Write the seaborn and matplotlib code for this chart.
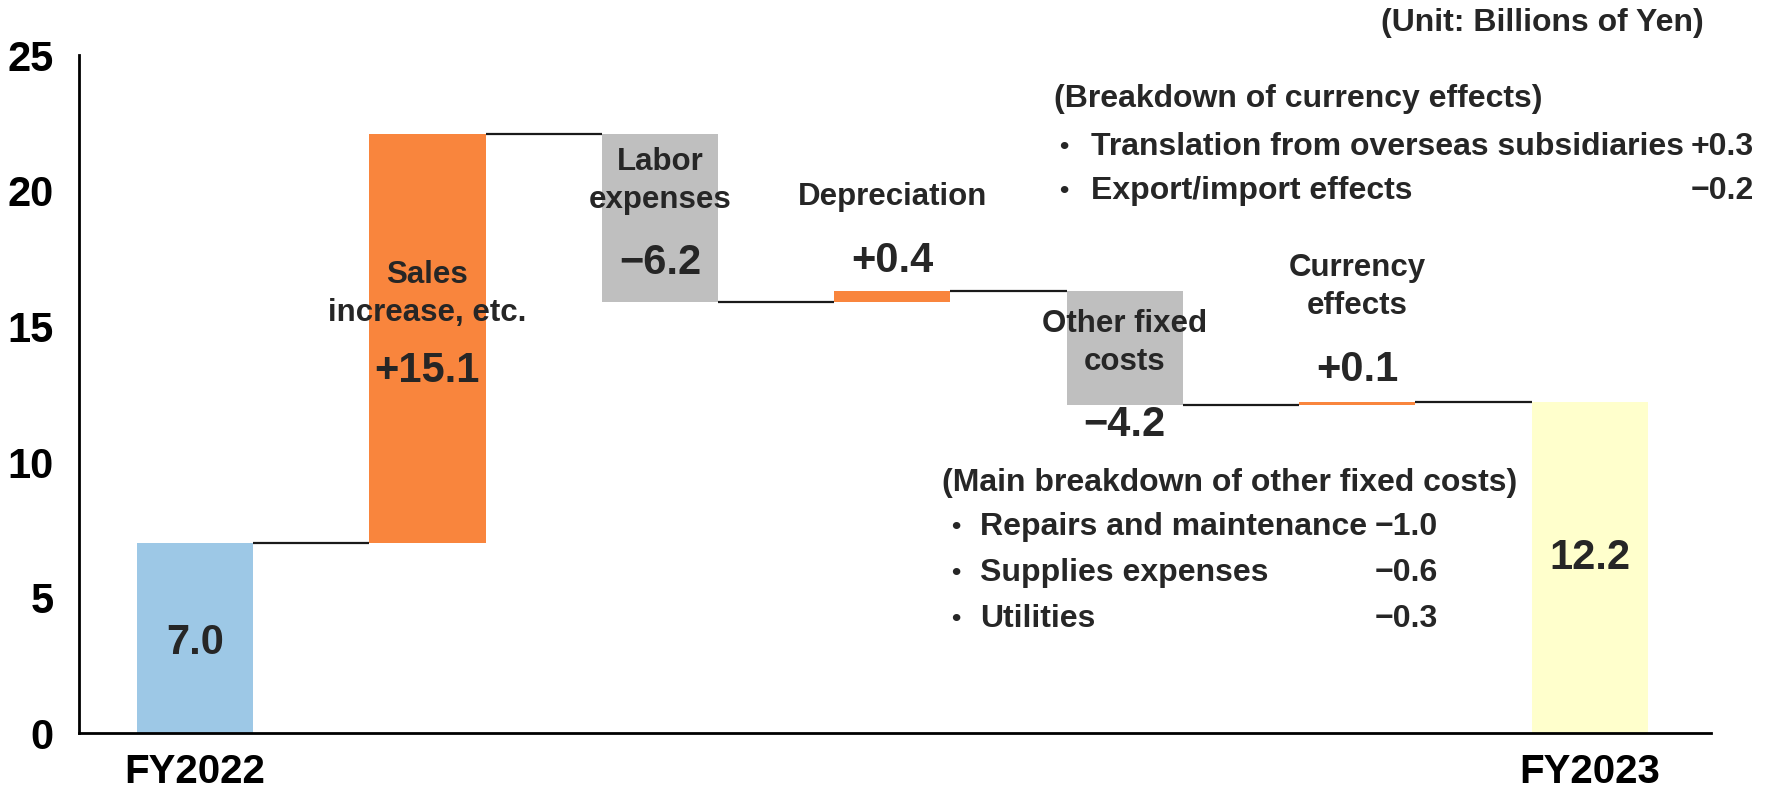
import pandas as pd
import matplotlib.pyplot as plt
import seaborn as sns

# waterfall data (billions of yen)
steps = ['FY2022', 'Sales\nincrease, etc.', 'Labor\nexpenses', 'Depreciation',
         'Other fixed\ncosts', 'Currency\neffects', 'FY2023']
deltas = [7.0, 15.1, -6.2, 0.4, -4.2, 0.1, 12.2]
is_total = [True, False, False, False, False, False, True]
value_labels = ['7.0', '+15.1', '\u22126.2', '+0.4', '\u22124.2', '+0.1', '12.2']
bar_colors = ['#9DC8E6', '#F9853D', '#BFBFBF', '#F9853D', '#BFBFBF', '#F9853D', '#FFFFCC']
xtick_labels = ['FY2022', '', '', '', '', '', 'FY2023']
yticks = [0, 5, 10, 15, 20, 25]

currency_items = ['Translation from overseas subsidiaries', 'Export/import effects']
currency_values = ['+0.3', '\u22120.2']
fixed_items = ['Repairs and maintenance', 'Supplies expenses', 'Utilities']
fixed_values = ['\u22121.0', '\u22120.6', '\u22120.3']

# running totals -> bar bottoms
bottoms = []
levels = []
run = 0.0
for d, tot in zip(deltas, is_total):
    if tot:
        bottoms.append(0.0)
        run = d
    else:
        bottoms.append(run + min(d, 0))
        run = run + d
    levels.append(run)

df = pd.DataFrame({'step': steps, 'height': [abs(d) for d in deltas]})

sns.set_style('white')
plt.rcParams['font.family'] = ['Liberation Sans', 'DejaVu Sans']
plt.rcParams['font.weight'] = 'bold'

fig = plt.figure(figsize=(17.69, 7.88), dpi=100)
ax = fig.add_axes([0.0445, 0.0692, 0.9225, 0.861])

sns.barplot(data=df, x='step', y='height', hue='step', palette=bar_colors,
            saturation=1, width=0.5, legend=False, linewidth=0, ax=ax)

# lift the floating bars to their bottoms
for p in ax.patches:
    i = int(round(p.get_x() + p.get_width() / 2))
    p.set_y(bottoms[i])

# connector lines
for i in range(len(steps) - 1):
    ax.hlines(levels[i], i + 0.25, i + 0.75, color='#1a1a1a', lw=1.6, zorder=3)

# labels
lab_y = [None, 16.2, 20.35, 19.75, 14.4, 16.45, None]
val_y = [3.35, 13.35, 17.35, 17.4, 11.35, 13.4, 6.45]
for i in range(len(steps)):
    if lab_y[i] is not None:
        ax.text(i, lab_y[i], steps[i], ha='center', va='center', fontsize=22.5,
                fontweight='bold', color='#262626', linespacing=1.35)
    ax.text(i, val_y[i], value_labels[i], ha='center', va='center', fontsize=30,
            fontweight='bold', color='#262626')

ax.set_xlim(-0.5, 6.52)
ax.set_ylim(0, 25)
ax.set_yticks(yticks)
ax.set_yticklabels([str(t) for t in yticks], fontsize=30, fontweight='bold', color='black')
ax.set_xticks(range(len(steps)))
ax.set_xticklabels(xtick_labels, fontsize=29, fontweight='bold', color='black')
ax.tick_params(axis='both', length=0)
ax.tick_params(axis='y', pad=18)
ax.tick_params(axis='x', pad=14)
ax.set_xlabel('')
ax.set_ylabel('')
sns.despine(ax=ax)
for s in ['left', 'bottom']:
    ax.spines[s].set_color('black')
    ax.spines[s].set_linewidth(2)

# notes
fig.text(0.963, 0.971, '(Unit: Billions of Yen)', ha='right', va='center', fontsize=23, fontweight='bold')

fig.text(0.596, 0.874, '(Breakdown of currency effects)', ha='left', va='center', fontsize=23, fontweight='bold')
for k, (name, val) in enumerate(zip(currency_items, currency_values)):
    yy = 0.814 - k * 0.057
    fig.text(0.5985, yy, '\u2022', ha='left', va='center', fontsize=19, fontweight='bold')
    fig.text(0.6167, yy, name, ha='left', va='center', fontsize=23, fontweight='bold')
    fig.text(0.9915, yy, val, ha='right', va='center', fontsize=23, fontweight='bold')

fig.text(0.5324, 0.387, '(Main breakdown of other fixed costs)', ha='left', va='center', fontsize=23, fontweight='bold')
for k, (name, val) in enumerate(zip(fixed_items, fixed_values)):
    yy = 0.3315 - k * 0.0587
    fig.text(0.5375, yy, '\u2022', ha='left', va='center', fontsize=19, fontweight='bold')
    fig.text(0.554, yy, name, ha='left', va='center', fontsize=23, fontweight='bold')
    fig.text(0.813, yy, val, ha='right', va='center', fontsize=23, fontweight='bold')

fig.savefig('out.png', dpi=100)
